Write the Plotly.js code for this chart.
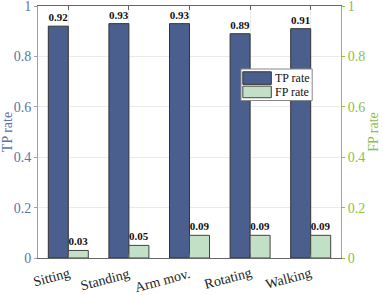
<!DOCTYPE html>
<html>
<head>
<meta charset="utf-8">
<script src="https://cdn.plot.ly/plotly-3.0.1.min.js"></script>
<style>html,body{margin:0;padding:0;background:#fff;}#chart{width:383px;height:295px;}</style>
</head>
<body>
<div id="chart"></div>
<script>
const categories = ["Sitting", "Standing", "Arm mov.", "Rotating", "Walking"];
const tpRate = [0.92, 0.93, 0.93, 0.89, 0.91];
const fpRate = [0.03, 0.05, 0.09, 0.09, 0.09];
const seriesNames = ["TP rate", "FP rate"];
const yTicks = [0, 0.2, 0.4, 0.6, 0.8, 1];
const yTickText = ["0", "0.2", "0.4", "0.6", "0.8", "1"];

const serif = "Liberation Serif, Times New Roman, serif";
const blue = "#5b74aa";
const green = "#8cc04a";

const traces = [
  {
    type: "bar", x: categories, y: tpRate, name: seriesNames[0],
    offsetgroup: "tp", yaxis: "y",
    marker: {color: "#4b5f8e", line: {color: "#333333", width: 1}},
    text: tpRate.map(v => v.toFixed(2)), texttemplate: "<b>%{text}</b>",
    textposition: "outside", cliponaxis: false,
    textfont: {family: serif, size: 11, color: "#111"},
    showlegend: false
  },
  {
    type: "bar", x: categories, y: fpRate, name: seriesNames[1],
    offsetgroup: "fp", yaxis: "y2",
    marker: {color: "#c2e0c5", line: {color: "#444444", width: 1}},
    text: fpRate.map(v => v.toFixed(2)), texttemplate: "<b>%{text}</b>",
    textposition: "outside", cliponaxis: false,
    textfont: {family: serif, size: 11, color: "#111"},
    showlegend: false
  }
];

const xLabelAnnotations = categories.map(c => ({
  xref: "x", yref: "paper", x: c, y: 0, xanchor: "right", yanchor: "top",
  xshift: 5, yshift: -5, textangle: -15, showarrow: false, text: c,
  font: {family: serif, size: 14, color: "#222"}
}));

const layout = {
  width: 383, height: 295,
  margin: {l: 38, r: 42, t: 6, b: 37},
  paper_bgcolor: "#fff", plot_bgcolor: "#fff",
  barmode: "group", bargap: 0.34, bargroupgap: 0,
  showlegend: false,
  font: {family: serif},
  xaxis: {
    type: "category",
    range: [-0.5, 4.5], showticklabels: false,
    showline: true, linecolor: "#666", linewidth: 1, mirror: "ticks",
    ticks: "inside", ticklen: 4, tickcolor: "#666",
    showgrid: true, gridcolor: "#ebebeb", zeroline: false
  },
  yaxis: {
    range: [0, 1], tickmode: "array", tickvals: yTicks, ticktext: yTickText,
    ticklabeloverflow: "allow",
    tickfont: {family: serif, size: 14, color: blue},
    title: {text: "TP rate", font: {family: serif, size: 14, color: blue}, standoff: 3},
    showline: true, linecolor: "#8ea0c8", linewidth: 1,
    ticks: "outside", ticklen: 3, tickcolor: "#8ea0c8",
    showgrid: true, gridcolor: "#ebebeb", zeroline: false
  },
  yaxis2: {
    range: [0, 1], tickmode: "array", tickvals: yTicks, ticktext: yTickText,
    ticklabeloverflow: "allow",
    overlaying: "y", side: "right",
    tickfont: {family: serif, size: 14, color: green},
    title: {text: "FP rate", font: {family: serif, size: 14, color: green}, standoff: 3},
    showline: true, linecolor: green, linewidth: 1,
    ticks: "outside", ticklen: 3, tickcolor: green,
    showgrid: false, zeroline: false
  },
  shapes: [
    {type: "rect", xref: "paper", yref: "paper", x0: 0.67, x1: 0.905, y0: 0.625, y1: 0.75,
     fillcolor: "#fff", line: {color: "#888", width: 1}, layer: "above"},
    {type: "rect", xref: "paper", yref: "paper", x0: 0.676, x1: 0.77, y0: 0.689, y1: 0.739,
     fillcolor: "#4b5f8e", line: {color: "#333", width: 1}, layer: "above"},
    {type: "rect", xref: "paper", yref: "paper", x0: 0.676, x1: 0.77, y0: 0.636, y1: 0.682,
     fillcolor: "#c2e0c5", line: {color: "#444", width: 1}, layer: "above"}
  ],
  annotations: xLabelAnnotations.concat([
    {xref: "paper", yref: "paper", x: 0.774, y: 0.714, xanchor: "left", yanchor: "middle",
     text: seriesNames[0], showarrow: false, font: {family: serif, size: 12, color: "#111"}},
    {xref: "paper", yref: "paper", x: 0.774, y: 0.659, xanchor: "left", yanchor: "middle",
     text: seriesNames[1], showarrow: false, font: {family: serif, size: 12, color: "#111"}}
  ])
};

Plotly.newPlot("chart", traces, layout, {displayModeBar: false, staticPlot: true});
</script>
</body>
</html>
